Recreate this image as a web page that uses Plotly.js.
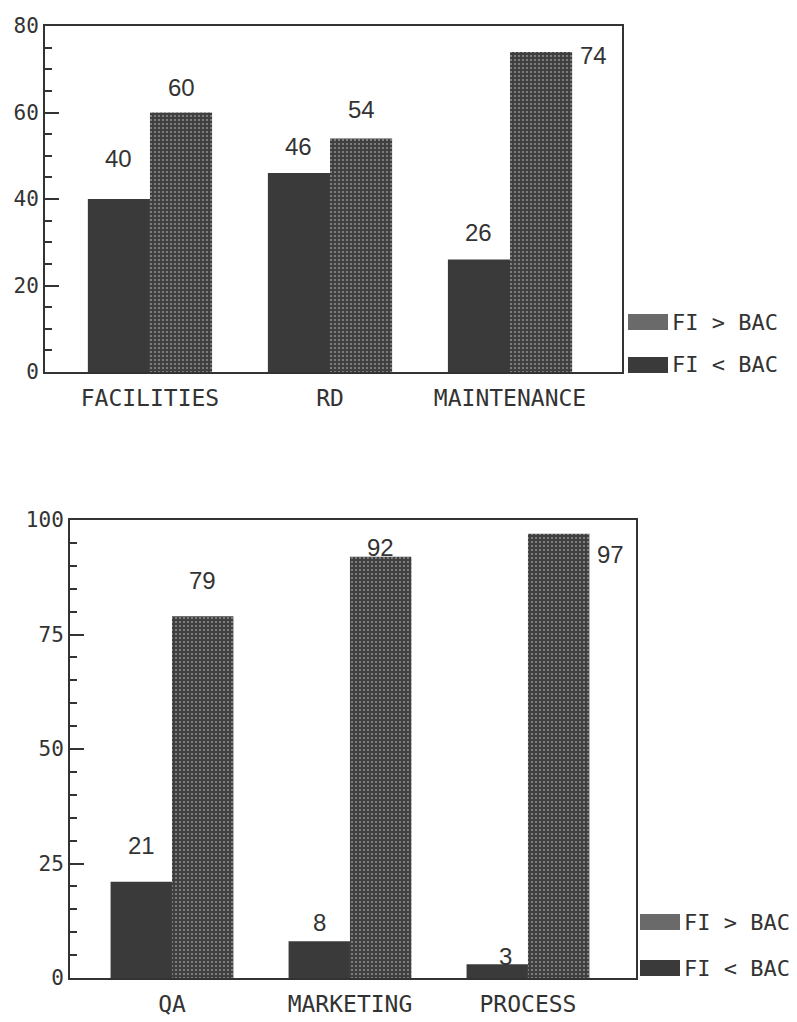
<!DOCTYPE html>
<html>
<head>
<meta charset="utf-8">
<script src="https://cdn.plot.ly/plotly-3.0.1.min.js"></script>
<style>
  html, body { margin: 0; padding: 0; background: #ffffff; }
  #chart { width: 797px; height: 1022px; }
</style>
</head>
<body>
<div id="chart"></div>
<script>
// ---------- DATA ----------
const categoriesTop = ['FACILITIES', 'RD', 'MAINTENANCE'];
const fiLessTop = [40, 46, 26];
const fiGreaterTop = [60, 54, 74];

const categoriesBottom = ['QA', 'MARKETING', 'PROCESS'];
const fiLessBottom = [21, 8, 3];
const fiGreaterBottom = [79, 92, 97];

const seriesNames = ['FI > BAC', 'FI < BAC'];
const yTicksTop = [0, 20, 40, 60, 80];
const yTicksBottom = [0, 25, 50, 75, 100];

// ---------- STYLE ----------
const W = 797, H = 1022;
const ink = '#333333';
const darkFill = '#3a3a3a';
const hatch = { shape: '.', bgcolor: '#3f3f3f', fgcolor: '#d8d8d8', size: 4, solidity: 0.22, fillmode: 'overlay' };
const monoFont = 'DejaVu Sans Mono, monospace';
const numFont = 'Liberation Sans, Arial, sans-serif';
const gap = 0.31;
const half = (1 - gap) / 2;

function px2x(a, b) { return [a / W, b / W]; }
function px2y(top, bottom) { return [(H - bottom) / H, (H - top) / H]; }

// label placement: dy = px shift of label centre from bar top (positive = up); mode 'right' = beside bar
const labelTopLess = [{ dy: 41 }, { dy: 27 }, { dy: 27 }];
const labelTopGreater = [{ dy: 25 }, { dy: 29 }, { mode: 'right', dy: -4 }];
const labelBotLess = [{ dy: 36 }, { dy: 19 }, { dy: 8, dx: 8 }];
const labelBotGreater = [{ dy: 36 }, { dy: 9 }, { mode: 'right', dy: -21 }];

function barTraces(cats, less, greater, xa, ya) {
  return [
    { type: 'bar', x: cats, y: less, name: seriesNames[1], xaxis: xa, yaxis: ya,
      marker: { color: darkFill, line: { width: 0 } }, showlegend: false, hoverinfo: 'x+y' },
    { type: 'bar', x: cats, y: greater, name: seriesNames[0], xaxis: xa, yaxis: ya,
      marker: { color: '#3f3f3f', pattern: hatch, line: { width: 0 } }, showlegend: false, hoverinfo: 'x+y' }
  ];
}

function labels(vals, place, side, xref, yref) {
  return vals.map((v, i) => {
    const p = place[i] || {};
    const base = { xref: xref, yref: yref, y: v, text: String(v), showarrow: false,
      font: { family: numFont, size: 24, color: ink }, yanchor: 'middle' };
    if (p.mode === 'right') {
      return Object.assign(base, { x: i + half, xanchor: 'left', xshift: 6, yshift: p.dy || 0 });
    }
    return Object.assign(base, { x: i + side * half / 2, xanchor: 'center', yshift: p.dy || 0, xshift: p.dx || 0 });
  });
}

function legendItems(xPx, rowsPx) {
  const shapes = [], ann = [];
  const fills = ['#6a6a6a', darkFill];
  rowsPx.forEach((yc, k) => {
    shapes.push({ type: 'rect', xref: 'paper', yref: 'paper',
      x0: xPx / W, x1: (xPx + 40) / W, y0: (H - yc - 8) / H, y1: (H - yc + 8) / H,
      fillcolor: fills[k], line: { width: 0 } });
    ann.push({ xref: 'paper', yref: 'paper', x: (xPx + 42) / W, y: (H - yc) / H,
      xanchor: 'left', yanchor: 'middle', showarrow: false, text: seriesNames[k],
      font: { family: monoFont, size: 22, color: ink } });
  });
  return { shapes, ann };
}

function yAxis(domain, range, ticks) {
  return {
    domain: domain, range: range, tickvals: ticks, ticktext: ticks.map(String),
    ticks: 'inside', ticklen: 14, tickwidth: 2, tickcolor: ink,
    minor: { dtick: 5, ticks: 'inside', ticklen: 7, tickwidth: 2, tickcolor: ink, showgrid: false },
    showline: true, linewidth: 2, linecolor: ink, mirror: true,
    showgrid: false, zeroline: false, fixedrange: true,
    tickfont: { family: monoFont, size: 21, color: ink }
  };
}

function xAxis(domain, range, anchor) {
  return {
    domain: domain, range: range, anchor: anchor, type: 'category',
    showline: true, linewidth: 2, linecolor: ink, mirror: true,
    ticks: '', showgrid: false, zeroline: false, fixedrange: true,
    ticklabelstandoff: 4,
    tickfont: { family: monoFont, size: 23, color: ink }
  };
}

const traces = [].concat(
  barTraces(categoriesTop, fiLessTop, fiGreaterTop, 'x', 'y'),
  barTraces(categoriesBottom, fiLessBottom, fiGreaterBottom, 'x2', 'y2')
);

const legTop = legendItems(628, [322, 365]);
const legBot = legendItems(640, [922, 968]);

const annotations = [].concat(
  labels(fiLessTop, labelTopLess, -1, 'x', 'y'),
  labels(fiGreaterTop, labelTopGreater, 1, 'x', 'y'),
  labels(fiLessBottom, labelBotLess, -1, 'x2', 'y2'),
  labels(fiGreaterBottom, labelBotGreater, 1, 'x2', 'y2'),
  legTop.ann, legBot.ann
);

const layout = {
  width: W, height: H,
  margin: { l: 0, r: 0, t: 0, b: 0 },
  paper_bgcolor: '#ffffff', plot_bgcolor: '#ffffff',
  barmode: 'group', bargap: gap, bargroupgap: 0,
  showlegend: false,
  xaxis: xAxis(px2x(45, 622), [-0.583, 2.622], 'y'),
  yaxis: Object.assign(yAxis(px2y(26, 372), [0, 80], yTicksTop), { anchor: 'x' }),
  xaxis2: xAxis(px2x(70, 636), [-0.573, 2.607], 'y2'),
  yaxis2: Object.assign(yAxis(px2y(520, 978), [0, 100], yTicksBottom), { anchor: 'x2' }),
  annotations: annotations,
  shapes: legTop.shapes.concat(legBot.shapes)
};

Plotly.newPlot('chart', traces, layout, { displayModeBar: false, staticPlot: true });
</script>
</body>
</html>
